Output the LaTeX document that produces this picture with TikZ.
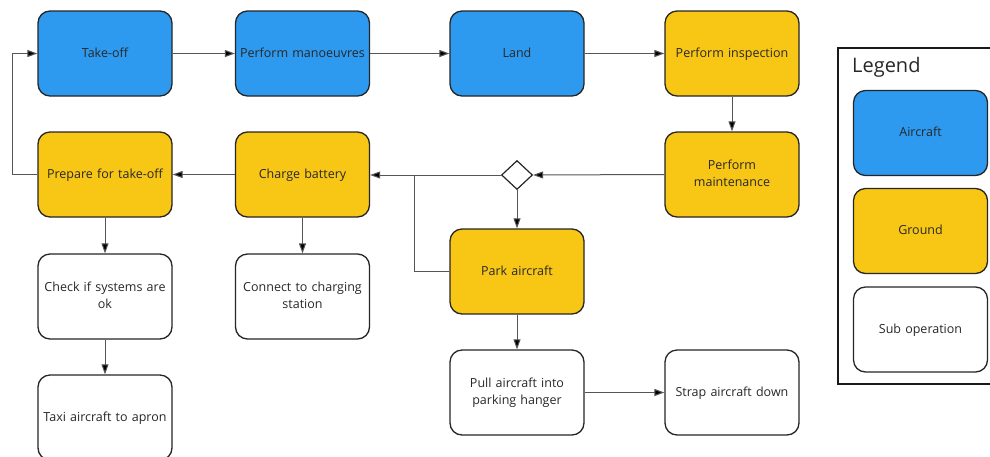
\documentclass[tikz,border=0pt]{standalone}
\usepackage{fontspec}
\setmainfont{Open Sans}
\usetikzlibrary{arrows.meta,shapes.geometric}
\definecolor{airblue}{RGB}{45,154,240}
\definecolor{gndyellow}{RGB}{248,198,20}
\definecolor{txt}{RGB}{40,40,40}
\definecolor{edge}{RGB}{85,85,85}
\tikzset{
  box/.style={draw=black!85, line width=1.3pt, rounded corners=12pt,
    minimum width=134pt, minimum height=85pt, align=center,
    text width=128pt, font=\fontsize{12.5}{17.5}\selectfont, text=txt, inner sep=0pt,
    execute at begin node=\strut, execute at end node=\strut},
  aircraft/.style={box, fill=airblue},
  ground/.style={box, fill=gndyellow},
  subop/.style={box, fill=white},
  decision/.style={diamond, draw=black!85, line width=1.2pt, fill=white,
    minimum width=31pt, minimum height=29pt, inner sep=0pt},
  conn/.style={draw=edge, line width=1pt,
    -{Triangle[length=10pt,width=7pt,fill=black]}},
  plain/.style={draw=edge, line width=1pt},
}
\begin{document}
\begin{tikzpicture}[x=1pt,y=-1pt]
  \useasboundingbox (0,0) rectangle (990,456);
  \clip (0,0) rectangle (990,456);
  \fill[white] (0,0) rectangle (990,456);

  % main flow
  \node[aircraft] (takeoff) at (105,53.5) {Take-off};
  \node[aircraft] (manoeuvre) at (302.5,53.5) {Perform manoeuvres};
  \node[aircraft] (land) at (517,53.5) {Land};
  \node[ground] (inspect) at (732,53.5) {Perform inspection};
  \node[ground] (maint) at (732,174.5) {Perform\\maintenance};
  \node[decision] (dec) at (517,175) {};
  \node[ground] (charge) at (302.5,174.5) {Charge battery};
  \node[ground] (prep) at (105,174.5) {Prepare for take-off};
  \node[ground] (park) at (517,271.5) {Park aircraft};

  % sub operations
  \node[subop] (check) at (105,296.5) {Check if systems are\\ok};
  \node[subop] (taxi) at (105,417.5) {Taxi aircraft to apron};
  \node[subop] (connect) at (302.5,296.5) {Connect to charging\\station};
  \node[subop] (pull) at (517,392.5) {Pull aircraft into\\parking hanger};
  \node[subop] (strap) at (732,392.5) {Strap aircraft down};

  % helper points for routed lines
  \coordinate (loopL) at (12,174.5);
  \coordinate (join) at (414,175);

  % connectors
  \draw[conn] (takeoff.east) -- (manoeuvre.west);
  \draw[conn] (manoeuvre.east) -- (land.west);
  \draw[conn] (land.east) -- (inspect.west);
  \draw[conn] (inspect.south) -- (maint.north);
  \draw[conn] (maint.west) -- (dec.east);
  \draw[conn] (dec.west) -- (charge.east |- dec.west);
  \draw[plain] (park.west) -| (join);
  \draw[conn] (dec.south) -- (park.north);
  \draw[conn] (charge.west) -- (prep.east);
  \draw[conn] (prep.west) -- (loopL) |- (takeoff.west);
  \draw[conn] (prep.south) -- (check.north);
  \draw[conn] (check.south) -- (taxi.north);
  \draw[conn] (charge.south) -- (connect.north);
  \draw[conn] (park.south) -- (pull.north);
  \draw[conn] (pull.east) -- (strap.west);

  % legend
  \draw[black!90, line width=2pt] (838,48) rectangle (1010,384);
  \node[anchor=west, font=\fontsize{20}{24}\selectfont, text=txt, inner sep=0pt] (legtitle) at (852,67) {Legend};
  \node[aircraft] (legair) at (920.5,133) {Aircraft};
  \node[ground] (leggnd) at (920.5,231) {Ground};
  \node[subop] (legsub) at (920.5,329.5) {Sub operation};
\end{tikzpicture}
\end{document}
